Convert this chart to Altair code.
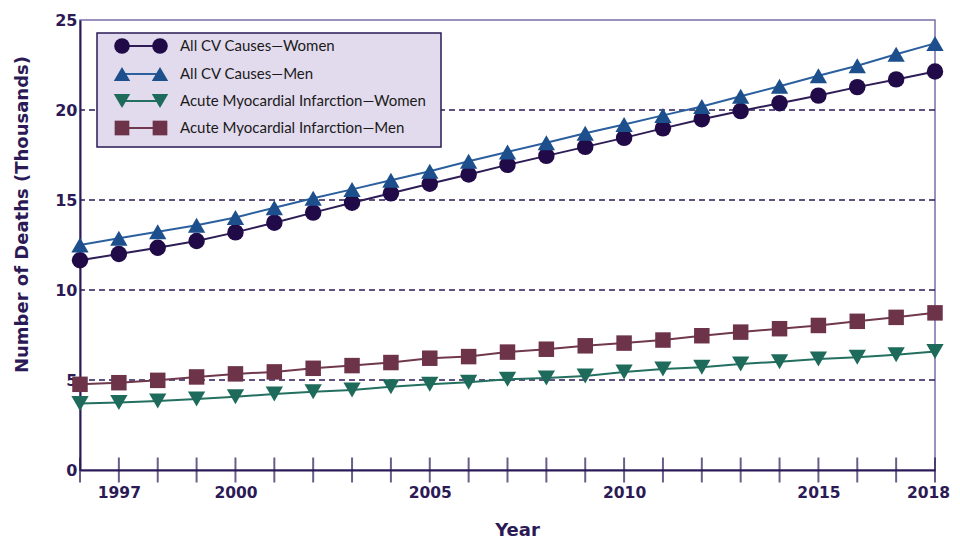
import altair as alt
import pandas as pd

# ---------------- data ----------------
years = list(range(1996, 2019))
cv_women = [11.65, 12.00, 12.35, 12.72, 13.20, 13.74, 14.30, 14.85, 15.37, 15.90,
            16.42, 16.95, 17.45, 17.95, 18.45, 18.98, 19.49, 19.94, 20.38, 20.80,
            21.27, 21.70, 22.14]
cv_men = [12.50, 12.87, 13.24, 13.60, 14.03, 14.57, 15.10, 15.59, 16.10, 16.60,
          17.15, 17.67, 18.18, 18.71, 19.20, 19.70, 20.19, 20.76, 21.32, 21.90,
          22.46, 23.10, 23.70]
ami_women = [3.70, 3.75, 3.83, 3.94, 4.07, 4.22, 4.35, 4.44, 4.63, 4.76,
             4.87, 5.04, 5.11, 5.22, 5.45, 5.61, 5.71, 5.89, 6.02, 6.16,
             6.27, 6.40, 6.58]
ami_men = [4.76, 4.85, 4.98, 5.17, 5.34, 5.45, 5.65, 5.80, 5.97, 6.21,
           6.30, 6.55, 6.71, 6.90, 7.05, 7.22, 7.46, 7.66, 7.85, 8.03,
           8.26, 8.48, 8.73]
series_names = ["All CV Causes\u2014Women", "All CV Causes\u2014Men",
                "Acute Myocardial Infarction\u2014Women", "Acute Myocardial Infarction\u2014Men"]
series_values = [cv_women, cv_men, ami_women, ami_men]
x_label_years = [1997, 2000, 2005, 2010, 2015, 2018]
y_ticks = [0, 5, 10, 15, 20, 25]
grid_values = [5, 10, 15, 20]

# ---------------- style ----------------
W, H = 855, 450
axis_color = "#2b1a55"
shapes = ["circle", "triangle-up", "triangle-down", "square"]
marker_colors = ["#200a48", "#1d4f8c", "#1e6b5c", "#6d3349"]
line_colors = ["#2e1d55", "#2b5f9e", "#237060", "#70384d"]
sizes = [270, 300, 300, 240]
num_font = "DejaVu Sans"

df = pd.DataFrame({
    "year": [y for _ in series_names for y in years],
    "value": [v for vals in series_values for v in vals],
    "series": [n for n in series_names for _ in years],
})

X = alt.X("year:Q",
          scale=alt.Scale(domain=[1996, 2018], nice=False, zero=False),
          axis=alt.Axis(values=x_label_years, format="d", ticks=False, grid=False,
                        domainColor=axis_color, domainWidth=2,
                        labelFont=num_font, labelFontWeight="bold", labelFontSize=15.5,
                        labelColor=axis_color, labelPadding=15, labelFlush=False,
                        labelOverlap=False, labelBound=False,
                        labelOffset=alt.expr("datum.value == 2018 ? -7 : 0"),
                        title="Year", titleFont=num_font, titleFontWeight="bold",
                        titleFontSize=18, titleColor=axis_color,
                        titleX=437, titleY=60, titleBaseline="middle"))
Y = alt.Y("value:Q",
          scale=alt.Scale(domain=[0, 25], nice=False),
          axis=alt.Axis(values=y_ticks, ticks=False, grid=False,
                        domainColor=axis_color, domainWidth=2,
                        labelFont=num_font, labelFontWeight="bold", labelFontSize=16,
                        labelColor=axis_color, labelPadding=3, labelFlush=False,
                        labelOverlap=False,
                        title="Number of Deaths (Thousands)", titleFont=num_font,
                        titleFontWeight="bold", titleFontSize=18, titleColor=axis_color,
                        titleAngle=-90, titleX=-58, titleY=194, titleBaseline="middle",
                        titleAlign="center"))

layers = []

# gridlines
grid = alt.Chart(pd.DataFrame({"value": grid_values})).mark_rule(
    color=axis_color, strokeWidth=1.5, strokeDash=[6, 4]
).encode(y=Y)
layers.append(grid)

# lines
for i, name in enumerate(series_names):
    sub = df[df["series"] == name]
    layers.append(alt.Chart(sub).mark_line(color=line_colors[i], strokeWidth=2).encode(x=X, y=Y))

# points (women circles before men triangles)
for i in [3, 2, 0, 1]:
    sub = df[df["series"] == series_names[i]]
    layers.append(alt.Chart(sub).mark_point(
        shape=shapes[i], filled=True, opacity=1, size=sizes[i], color=marker_colors[i]
    ).encode(x=X, y=Y))

# x-axis tick marks crossing the axis line
layers.append(alt.Chart(pd.DataFrame({"year": years})).mark_tick(
    orient="vertical", size=25, thickness=2, color=axis_color
).encode(x=X, y=alt.value(H)))

# custom legend
one = pd.DataFrame({"k": [0]})
layers.append(alt.Chart(one).mark_rect(
    fill="#e2daed", stroke=axis_color, strokeWidth=1.5
).encode(x=alt.value(17), x2=alt.value(361), y=alt.value(13), y2=alt.value(127)))

row_y = [26, 54, 81, 108]
for i, name in enumerate(series_names):
    ldf = pd.DataFrame({"series": [name]})
    layers.append(alt.Chart(ldf).mark_rule(color=line_colors[i], strokeWidth=2).encode(
        x=alt.value(42), x2=alt.value(80), y=alt.value(row_y[i])))
    for px in (42, 80):
        layers.append(alt.Chart(ldf).mark_point(
            shape=shapes[i], filled=True, opacity=1, size=sizes[i] * 0.9, color=marker_colors[i]
        ).encode(x=alt.value(px), y=alt.value(row_y[i])))
    layers.append(alt.Chart(ldf).mark_text(
        align="left", baseline="middle", font="Lato", fontSize=15, color="#1a1a1a"
    ).encode(x=alt.value(100), y=alt.value(row_y[i]), text="series:N"))

chart = alt.layer(*layers).properties(
    width=W, height=H,
    autosize=alt.AutoSizeParams(type="none"),
    padding={"left": 72, "top": 12, "right": 17, "bottom": 68},
    background="white",
).configure_view(stroke="#7b6da8", strokeWidth=1.5)

chart.save("out.html", embed_options={"renderer": "svg", "actions": False})
